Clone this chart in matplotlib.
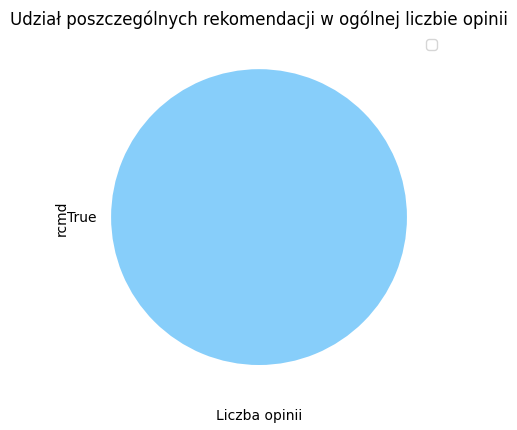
import matplotlib
matplotlib.use("Agg")
import matplotlib.pyplot as plt

# rcmd value counts (only one category present)
labels = ["True"]
counts = [100]
colors = ["lightskyblue"]

fig = plt.figure(figsize=(5.17, 4.31), dpi=100)
ax = fig.add_axes([0.143, 0.065, 0.716, 0.858])

ax.pie(counts, labels=labels, colors=colors)
ax.set_title("Udział poszczególnych rekomendacji w ogólnej liczbie opinii")
ax.set_ylabel("rcmd")
ax.set_xlabel("Liczba opinii")
ax.legend(handles=[], loc="upper right")

fig.savefig("out.png", dpi=100)
plt.close(fig)
